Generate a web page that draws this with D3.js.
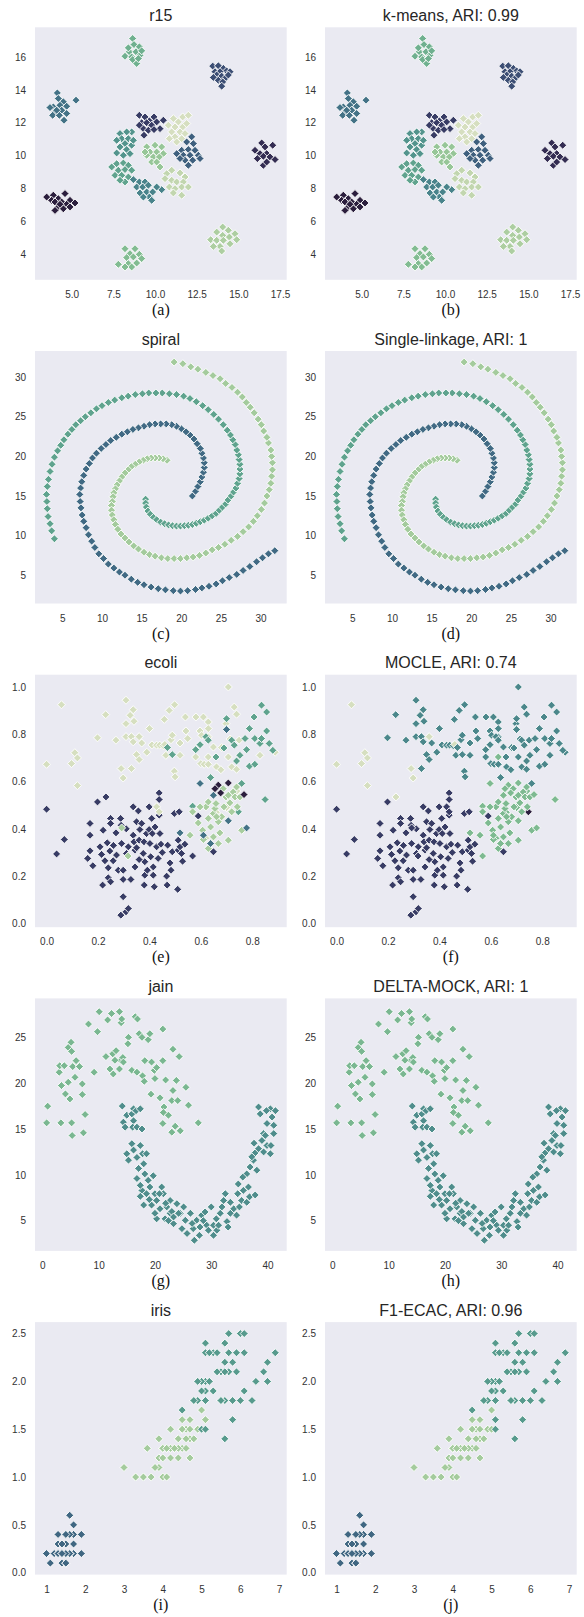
<!DOCTYPE html>
<html>
<head>
<meta charset="utf-8">
<script src="https://cdn.jsdelivr.net/npm/d3@7/dist/d3.min.js"></script>
<style>
body { margin: 0; background: #fff; }
text { font-family: "Liberation Sans", Arial, sans-serif; }
</style>
</head>
<body>
<svg id="fig" width="584" height="1617"></svg>
<script>
// ---- data ----
// r15: [x, y, cluster]
var r15Points = [
  [8.66,17.12,0],[8.74,16.75,0],[9.06,16.61,0],[8.46,16.31,0],[8.86,16.31,0],[8.2,16.04,0],[8.6,16.0,0],[9.1,16.1,0],[8.8,15.7,0],[8.9,15.6,0],[8.4,16.55,0],[9.2,16.37,0],[8.66,15.84,0],[9.0,15.9,0],
  [13.46,15.44,1],[13.8,15.46,1],[14.1,15.3,1],[14.3,15.15,1],[14.5,15.1,1],[13.6,15.1,1],[13.9,15.1,1],[13.7,14.9,1],[14.0,14.83,1],[14.26,14.75,1],[13.5,14.75,1],[13.8,14.58,1],[14.06,14.48,1],[14.0,14.22,1],[14.4,14.9,1],
  [4.14,13.81,2],[4.2,13.47,2],[4.5,13.27,2],[3.9,12.96,2],[4.3,13.06,2],[4.7,13.0,2],[3.7,12.92,2],[4.0,12.66,2],[4.4,12.76,2],[4.7,12.56,2],[3.86,12.45,2],[4.26,12.45,2],[4.54,12.15,2],[5.26,13.37,2],[4.1,12.76,2],
  [9.06,12.45,3],[9.4,12.35,3],[9.94,12.35,3],[9.66,12.11,3],[10.1,12.05,3],[9.2,12.0,3],[9.5,12.0,3],[9.8,11.85,3],[10.3,11.64,3],[9.3,11.64,3],[9.6,11.54,3],[9.94,11.58,3],[9.34,11.24,3],[10.5,12.15,3],[9.06,11.85,3],
  [11.66,12.35,4],[12.0,12.45,4],[11.1,12.25,4],[11.4,12.05,4],[10.8,11.85,4],[11.2,11.74,4],[11.66,11.74,4],[11.0,11.44,4],[11.5,11.44,4],[11.8,11.34,4],[11.2,11.14,4],[11.6,11.03,4],[11.3,10.83,4],[10.86,11.03,4],[11.9,11.95,4],
  [8.6,11.44,5],[8.3,11.44,5],[7.9,11.34,5],[8.0,11.03,5],[8.4,11.03,5],[7.7,10.93,5],[8.2,10.73,5],[8.6,10.63,5],[7.9,10.53,5],[8.3,10.37,5],[7.7,10.16,5],[8.1,10.02,5],[8.5,10.12,5],[8.7,10.93,5],
  [9.5,10.53,6],[10.0,10.63,6],[10.4,10.53,6],[9.7,10.22,6],[10.1,10.22,6],[10.5,10.12,6],[9.5,10.02,6],[9.9,9.92,6],[10.26,9.92,6],[9.8,9.61,6],[10.1,9.61,6],[9.4,10.22,6],[10.3,9.31,6],
  [12.2,11.14,7],[11.9,10.83,7],[12.3,10.73,7],[11.6,10.32,7],[12.0,10.37,7],[12.4,10.32,7],[11.3,10.12,7],[11.7,10.02,7],[12.1,10.02,7],[12.6,10.02,7],[11.8,9.72,7],[12.26,9.72,7],[12.7,9.82,7],[12.0,9.41,7],[11.5,9.82,7],
  [16.4,10.77,8],[16.0,10.32,8],[16.6,10.53,8],[17.06,10.63,8],[16.3,10.12,8],[16.7,10.12,8],[16.14,9.82,8],[16.5,9.96,8],[16.9,9.92,8],[16.5,9.41,8],[17.2,9.76,8],[16.7,9.61,8],
  [7.4,9.31,9],[7.7,9.51,9],[8.1,9.55,9],[8.4,9.41,9],[7.8,9.11,9],[8.2,9.15,9],[8.6,9.11,9],[7.6,8.8,9],[8.0,8.8,9],[8.4,8.7,9],[8.2,8.4,9],[7.9,8.5,9],
  [10.7,8.9,10],[11.0,9.11,10],[11.5,8.95,10],[11.8,8.7,10],[10.6,8.6,10],[11.0,8.5,10],[11.3,8.4,10],[11.7,8.4,10],[10.86,8.09,10],[11.2,7.99,10],[11.6,8.09,10],[12.0,8.09,10],[11.1,7.73,10],[11.6,7.59,10],
  [8.7,8.54,11],[9.06,8.4,11],[9.4,8.4,11],[8.9,8.09,11],[9.26,8.09,11],[9.6,8.2,11],[9.1,7.73,11],[9.5,7.79,11],[9.86,7.79,11],[9.66,7.48,11],[9.8,7.28,11],[10.4,7.93,11],[10.1,8.09,11],[9.3,7.48,11],
  [3.5,7.48,12],[3.9,7.59,12],[4.2,7.38,12],[4.6,7.69,12],[4.9,7.28,12],[5.2,7.12,12],[3.8,7.28,12],[4.0,7.18,12],[4.4,7.18,12],[4.7,7.04,12],[4.2,6.88,12],[4.5,6.77,12],[4.9,6.88,12],[4.0,6.67,12],[4.3,7.04,12],
  [8.2,4.34,13],[8.8,4.34,13],[8.5,4.04,13],[9.06,4.0,13],[8.3,3.8,13],[8.7,3.84,13],[9.2,3.74,13],[7.8,3.39,13],[8.4,3.43,13],[8.9,3.47,13],[8.6,3.23,13],[8.2,3.23,13],
  [14.06,5.66,14],[14.4,5.46,14],[14.8,5.25,14],[13.7,5.35,14],[14.06,5.15,14],[14.46,5.05,14],[13.34,4.89,14],[13.7,4.85,14],[14.1,4.85,14],[14.5,4.64,14],[13.9,4.48,14],[13.5,4.48,14],[14.0,4.2,14],[14.9,4.89,14]
];

// spiral: one list per arm, [x, y]
var spiralArmA = [
  [18.2,19.5],[17.7,19.7],[17.2,19.8],[16.7,19.8],[16.2,19.8],[15.7,19.7],[15.2,19.5],[14.7,19.3],[14.2,19.0],[13.7,18.7],[13.3,18.3],[12.9,17.9],[12.5,17.4],[12.2,16.9],[11.9,16.4],[11.7,15.9],[11.5,15.4],[11.4,14.9],[11.3,14.3],[11.2,13.8],[11.2,13.2],[11.3,12.6],[11.5,12.0],[11.7,11.4],[12.0,10.8],[12.4,10.2],[12.9,9.7],[13.4,9.2],[14.0,8.7],[14.6,8.3],[15.3,7.9],[16.0,7.6],[16.7,7.4],[17.5,7.2],[18.3,7.1],[19.1,7.1],[19.9,7.1],[20.7,7.2],[21.5,7.3],[22.3,7.5],[23.1,7.8],[23.9,8.2],[24.7,8.5],[25.5,8.9],[26.3,9.4],[27.1,9.9],[27.8,10.5],[28.5,11.1],[29.1,11.8],[29.6,12.5],[30.1,13.3],[30.5,14.1],[30.8,15.0],[31.1,15.8],[31.3,16.6],[31.4,17.5],[31.5,18.3],[31.5,19.2],[31.4,20.0],[31.3,20.8],[31.0,21.7],[30.8,22.4],[30.4,23.2],[30.1,24.0],[29.7,24.7],[29.2,25.5],[28.7,26.2],[28.2,26.8],[27.7,27.5],[27.1,28.1],[26.4,28.7],[25.6,29.2],[24.9,29.8],[24.0,30.2],[23.1,30.6],[22.1,31.0],[21.2,31.3],[20.2,31.7],[19.1,31.9]
];
var spiralArmB = [
  [15.5,14.6],[15.5,14.1],[15.6,13.6],[15.8,13.1],[16.1,12.7],[16.5,12.3],[16.9,12.0],[17.4,11.7],[17.9,11.5],[18.4,11.35],[18.9,11.25],[19.4,11.2],[19.9,11.2],[20.4,11.25],[20.9,11.3],[21.4,11.4],[21.9,11.55],[22.4,11.75],[22.9,11.95],[23.4,12.2],[23.9,12.5],[24.4,12.8],[24.8,13.2],[25.2,13.6],[25.6,14.0],[25.9,14.5],[26.3,15.0],[26.6,15.5],[26.9,16.0],[27.1,16.6],[27.3,17.2],[27.4,17.8],[27.4,18.4],[27.4,19.0],[27.3,19.6],[27.2,20.2],[27.0,20.8],[26.8,21.5],[26.5,22.1],[26.2,22.7],[25.8,23.3],[25.3,24.0],[24.7,24.7],[24.1,25.3],[23.4,25.9],[22.7,26.4],[21.9,26.9],[21.1,27.3],[20.3,27.6],[19.4,27.8],[18.5,27.9],[17.6,28.0],[16.8,28.0],[15.9,28.0],[15.1,27.9],[14.2,27.8],[13.3,27.6],[12.5,27.4],[11.6,27.1],[10.8,26.8],[10.0,26.4],[9.3,26.0],[8.6,25.5],[7.9,25.0],[7.3,24.5],[6.7,24.0],[6.2,23.4],[5.7,22.8],[5.2,22.1],[4.8,21.4],[4.4,20.7],[4.0,19.9],[3.7,19.0],[3.45,18.1],[3.25,17.1],[3.1,16.2],[3.0,15.2],[3.05,14.3],[3.1,13.4],[3.2,12.4],[3.45,11.5],[3.65,10.6],[4.0,9.6]
];
var spiralArmC = [
  [21.4,15.0],[21.8,15.6],[22.1,16.2],[22.4,16.8],[22.6,17.4],[22.8,18.0],[22.9,18.6],[22.9,19.2],[22.8,19.8],[22.6,20.4],[22.4,21.0],[22.0,21.6],[21.6,22.2],[21.1,22.7],[20.6,23.1],[20.0,23.5],[19.4,23.8],[18.8,24.0],[18.1,24.1],[17.4,24.1],[16.7,24.1],[16.0,24.0],[15.3,23.8],[14.6,23.6],[13.9,23.4],[13.2,23.1],[12.5,22.8],[11.8,22.4],[11.1,22.0],[10.5,21.5],[9.9,21.0],[9.3,20.4],[8.8,19.8],[8.4,19.1],[8.0,18.4],[7.7,17.6],[7.45,16.8],[7.3,16.0],[7.2,15.2],[7.25,14.3],[7.35,13.5],[7.5,12.6],[7.7,11.8],[8.0,11.0],[8.3,10.1],[8.7,9.3],[9.1,8.5],[9.6,7.7],[10.2,7.1],[10.8,6.4],[11.5,5.9],[12.2,5.4],[12.9,5.0],[13.7,4.5],[14.5,4.1],[15.3,3.8],[16.2,3.5],[17.1,3.3],[18.0,3.15],[19.0,3.05],[19.9,3.0],[20.8,3.05],[21.8,3.2],[22.6,3.4],[23.5,3.6],[24.4,3.9],[25.2,4.3],[26.05,4.7],[27.0,5.1],[27.8,5.6],[28.65,6.1],[29.5,6.7],[30.25,7.2],[31.0,7.7],[31.8,8.1]
];

// ecoli: [x, y, true class, MOCLE class]
var ecoliPoints = [
  [0.0,0.483,'N','N'],[0.039,0.294,'N','N'],[0.069,0.355,'N','N'],[0.16,0.275,'N','N'],[0.169,0.307,'N','N'],[0.169,0.423,'N','N'],[0.169,0.373,'N','N'],[0.18,0.244,'N','N'],[0.198,0.514,'N','N'],[0.208,0.324,'N','N'],
  [0.214,0.292,'N','N'],[0.218,0.162,'N','N'],[0.22,0.394,'N','N'],[0.227,0.265,'N','N'],[0.231,0.535,'N','P'],[0.236,0.341,'N','N'],[0.24,0.235,'N','N'],[0.24,0.193,'N','N'],[0.246,0.306,'N','N'],[0.249,0.444,'N','N'],
  [0.249,0.176,'N','N'],[0.249,0.423,'N','N'],[0.259,0.265,'N','N'],[0.27,0.383,'N','N'],[0.272,0.289,'N','N'],[0.279,0.225,'N','N'],[0.288,0.444,'N','N'],[0.29,0.415,'N','N'],[0.292,0.338,'N','N'],[0.298,0.225,'N','N'],
  [0.298,0.186,'N','N'],[0.298,0.113,'N','N'],[0.289,0.035,'N','N'],[0.309,0.049,'N','N'],[0.318,0.063,'N','N'],[0.311,0.296,'N','N'],[0.318,0.324,'N','N'],[0.328,0.186,'N','N'],[0.337,0.493,'N','N'],[0.337,0.373,'N','N'],
  [0.34,0.345,'N','N'],[0.344,0.31,'N','N'],[0.344,0.239,'N','N'],[0.35,0.43,'N','N'],[0.35,0.32,'N','N'],[0.357,0.476,'N','N'],[0.36,0.352,'N','N'],[0.363,0.397,'N','N'],[0.37,0.423,'N','N'],[0.376,0.296,'N','N'],
  [0.379,0.345,'N','N'],[0.38,0.162,'N','N'],[0.382,0.204,'N','N'],[0.382,0.261,'N','N'],[0.389,0.38,'N','N'],[0.392,0.225,'N','N'],[0.399,0.493,'N','N'],[0.399,0.397,'N','N'],[0.402,0.338,'N','N'],[0.405,0.282,'N','N'],
  [0.409,0.444,'N','N'],[0.411,0.38,'N','N'],[0.415,0.239,'N','N'],[0.415,0.204,'N','N'],[0.419,0.155,'N','N'],[0.422,0.408,'N','N'],[0.428,0.324,'N','N'],[0.434,0.275,'N','N'],[0.438,0.552,'N','N'],[0.438,0.524,'N','N'],
  [0.441,0.38,'N','N'],[0.445,0.335,'N','N'],[0.438,0.458,'N','N'],[0.467,0.2,'N','N'],[0.469,0.162,'N','N'],[0.471,0.331,'N','N'],[0.48,0.256,'N','N'],[0.484,0.225,'N','N'],[0.489,0.303,'N','N'],[0.497,0.465,'N','N'],
  [0.51,0.144,'N','N'],[0.512,0.31,'N','N'],[0.516,0.472,'N','N'],[0.519,0.324,'N','N'],[0.525,0.296,'N','N'],[0.529,0.263,'N','N'],[0.538,0.335,'N','N'],[0.568,0.285,'N','M'],[0.59,0.454,'N','N'],[0.649,0.303,'N','N'],
  [0.512,0.352,'N','N'],[0.31,0.4,'N','N'],[0.26,0.33,'N','N'],[0.45,0.3,'N','N'],[0.36,0.27,'N','N'],
  [0.058,0.925,'P','P'],[0.0,0.673,'P','P'],[0.097,0.676,'P','P'],[0.11,0.722,'P','P'],[0.12,0.70,'P','P'],[0.12,0.583,'P','P'],[0.23,0.883,'P','T'],[0.198,0.785,'P','T'],[0.27,0.775,'P','T'],[0.309,0.944,'P','T'],
  [0.309,0.845,'P','T'],[0.309,0.79,'P','T'],[0.325,0.88,'P','T'],[0.337,0.904,'P','T'],[0.34,0.855,'P','T'],[0.33,0.79,'P','T'],[0.337,0.768,'P','T'],[0.36,0.79,'P','P'],[0.29,0.655,'P','P'],[0.298,0.615,'P','P'],
  [0.33,0.655,'P','T'],[0.35,0.714,'P','T'],[0.36,0.693,'P','T'],[0.37,0.763,'P','T'],[0.39,0.724,'P','T'],[0.40,0.824,'P','T'],[0.41,0.755,'P','T'],[0.428,0.754,'P','T'],[0.44,0.754,'P','T'],[0.454,0.752,'P','T'],
  [0.458,0.863,'P','T'],[0.464,0.711,'P','T'],[0.477,0.901,'P','T'],[0.484,0.777,'P','T'],[0.489,0.796,'P','T'],[0.498,0.925,'P','T'],[0.497,0.644,'P','T'],[0.50,0.62,'P','T'],[0.519,0.711,'P','T'],[0.519,0.763,'P','T'],
  [0.54,0.873,'P','T'],[0.542,0.814,'P','T'],[0.549,0.782,'P','T'],[0.581,0.873,'P','T'],[0.58,0.704,'P','T'],[0.597,0.814,'P','T'],[0.603,0.796,'P','T'],[0.61,0.873,'P','T'],[0.60,0.676,'P','T'],[0.613,0.673,'P','T'],
  [0.629,0.852,'P','T'],[0.629,0.824,'P','T'],[0.629,0.789,'P','T'],[0.629,0.704,'P','M'],[0.629,0.673,'P','T'],[0.649,0.746,'P','T'],[0.661,0.662,'P','T'],[0.678,0.65,'P','T'],[0.681,0.744,'P','T'],[0.698,0.845,'P','T'],
  [0.707,1.0,'P','T'],[0.707,0.704,'P','T'],[0.714,0.78,'P','T'],[0.72,0.662,'P','T'],[0.73,0.915,'P','T'],[0.739,0.885,'P','T'],[0.739,0.652,'P','T'],[0.749,0.775,'P','T'],[0.83,0.711,'P','T'],[0.889,0.724,'P','T'],
  [0.46,0.757,'P','P'],[0.428,0.493,'P','N'],[0.438,0.472,'P','N'],[0.62,0.36,'P','M'],[0.74,0.56,'P','M'],[0.66,0.47,'P','M'],[0.70,0.49,'P','M'],
  [0.47,0.744,'G','T'],[0.489,0.714,'G','T'],[0.58,0.735,'G','T'],[0.597,0.756,'G','T'],[0.62,0.79,'G','T'],[0.629,0.775,'G','T'],[0.638,0.617,'G','T'],[0.659,0.704,'G','T'],[0.70,0.866,'G','T'],[0.69,0.742,'G','T'],
  [0.72,0.775,'G','T'],[0.73,0.754,'G','T'],[0.752,0.711,'G','T'],[0.739,0.687,'G','T'],[0.759,0.592,'G','T'],[0.772,0.782,'G','T'],[0.778,0.735,'G','T'],[0.789,0.824,'G','T'],[0.789,0.665,'G','T'],[0.807,0.873,'G','T'],
  [0.81,0.782,'G','T'],[0.83,0.761,'G','T'],[0.836,0.923,'G','T'],[0.836,0.782,'G','T'],[0.856,0.894,'G','T'],[0.856,0.814,'G','T'],[0.866,0.761,'G','T'],[0.88,0.732,'G','T'],[0.85,0.524,'G','M'],[0.81,0.673,'G','T'],
  [0.746,0.472,'G','D'],[0.568,0.496,'G','M'],[0.70,0.824,'G','T'],
  [0.568,0.472,'L','M'],[0.59,0.425,'L','M'],[0.607,0.394,'L','M'],[0.61,0.355,'L','M'],[0.62,0.493,'L','M'],[0.629,0.514,'L','M'],[0.629,0.444,'L','M'],[0.629,0.317,'L','M'],[0.638,0.408,'L','M'],[0.649,0.465,'L','M'],
  [0.655,0.486,'L','M'],[0.659,0.507,'L','M'],[0.668,0.43,'L','M'],[0.674,0.383,'L','M'],[0.681,0.451,'L','M'],[0.687,0.57,'L','M'],[0.69,0.493,'L','M'],[0.698,0.535,'L','M'],[0.707,0.542,'L','M'],[0.707,0.352,'L','M'],
  [0.713,0.51,'L','M'],[0.72,0.472,'L','M'],[0.726,0.556,'L','M'],[0.733,0.535,'L','M'],[0.739,0.577,'L','M'],[0.742,0.493,'L','M'],[0.752,0.535,'L','M'],[0.759,0.394,'L','M'],[0.661,0.451,'L','M'],[0.649,0.366,'L','M'],
  [0.668,0.338,'L','M'],[0.597,0.493,'L','M'],[0.558,0.373,'L','M'],[0.292,0.404,'L','N'],[0.317,0.285,'L','N'],
  [0.597,0.592,'B','M'],[0.61,0.373,'B','M'],[0.649,0.542,'B','M'],[0.519,0.383,'B','M'],[0.707,0.434,'B','M'],[0.778,0.404,'B','M'],[0.70,0.82,'B','T'],[0.638,0.338,'B','M'],
  [0.668,0.585,'D','M'],[0.707,0.594,'D','M'],[0.677,0.552,'D','M'],[0.768,0.545,'D','M'],[0.655,0.57,'D','M']
];

// jain: [x, y]
var jainUpper = [
  [0.95,17.49],[0.77,15.67],[3.3,15.67],[5.2,15.67],[5.3,14.29],[7.3,14.58],[7.6,16.58],[7.1,18.76],[7.1,19.92],[4.9,18.28],[4.1,18.83],[4.6,20.1],[3.4,19.74],[3.0,21.19],[3.1,21.91],[3.9,21.91],[5.4,21.81],[6.0,22.46],[5.8,20.64],[6.6,21.81],
  [4.6,23.9],[5.1,24.46],[5.2,23.47],[9.2,21.19],[8.2,26.45],[9.8,25.62],[10.1,27.8],[11.3,22.9],[11.6,26.9],[12.3,27.6],[12.0,21.55],[12.5,23.2],[13.1,23.55],[13.7,27.8],[14.0,26.6],[13.9,22.5],[13.7,21.55],[14.3,22.8],[14.4,22.3],[12.6,21.0],
  [15.3,25.0],[15.2,24.3],[15.9,21.4],[16.5,27.25],[16.8,21.2],[17.2,25.4],[17.7,25.0],[17.8,20.8],[18.1,20.2],[18.2,22.46],[18.8,24.75],[19.1,25.4],[19.3,18.8],[19.4,22.3],[19.9,21.4],[20.0,20.5],[20.3,21.7],[20.9,18.4],[21.4,25.9],[21.4,22.46],
  [21.6,17.4],[21.9,20.35],[21.5,16.8],[21.4,15.6],[22.4,16.5],[23.0,18.1],[23.2,19.2],[23.2,23.7],[23.0,14.65],[23.6,15.3],[23.8,20.3],[24.05,18.1],[24.5,14.8],[24.3,22.9],[25.5,19.55],[25.96,17.6],[27.7,15.67],[12.9,22.5],[14.1,27.0],[16.9,27.0]
];
var jainLower = [
  [14.2,17.5],[14.4,15.75],[15.0,16.5],[15.9,16.65],[16.2,17.2],[16.65,17.0],[17.4,17.2],[16.2,15.9],[16.05,15.2],[16.8,15.2],[17.7,15.0],[14.7,15.2],[15.9,13.4],[15.0,12.3],[15.3,11.6],[16.2,12.7],[16.8,11.9],[17.4,13.2],[17.8,12.3],[18.5,12.3],
  [18.0,11.2],[16.8,9.6],[17.1,10.7],[18.2,10.1],[19.7,9.9],[17.7,8.3],[18.5,7.94],[19.1,8.67],[17.4,7.65],[18.0,6.7],[19.4,6.7],[20.0,7.94],[21.2,8.67],[21.5,7.94],[20.3,7.2],[20.9,6.3],[22.1,6.5],[22.7,7.2],[20.3,5.2],[21.8,5.2],
  [22.7,5.8],[23.3,4.67],[23.9,6.85],[24.5,5.8],[25.1,6.5],[25.4,5.04],[24.8,4.13],[25.7,3.6],[26.3,5.8],[26.8,4.13],[27.0,2.86],[27.4,5.04],[27.9,3.4],[28.3,5.6],[28.9,5.95],[29.2,4.5],[29.5,3.95],[30.0,6.5],[30.4,3.4],[30.9,5.2],
  [31.0,3.95],[31.6,5.8],[31.9,6.5],[32.5,7.94],[32.8,4.9],[33.0,4.3],[33.4,5.8],[33.4,7.0],[34.0,6.3],[34.5,5.6],[34.7,7.94],[35.0,6.5],[35.4,7.2],[35.7,8.3],[34.8,9.0],[36.3,7.0],[36.6,8.67],[36.8,7.6],[37.8,7.8],[36.3,10.1],
  [35.6,9.75],[36.9,10.85],[37.5,11.6],[38.1,10.5],[37.8,12.4],[37.2,11.96],[38.4,12.85],[37.6,13.45],[39.3,12.5],[39.9,13.2],[40.5,12.3],[39.0,13.75],[39.3,14.5],[40.6,13.2],[39.9,15.6],[41.1,15.4],[40.8,16.3],[40.5,17.2],[38.7,16.65],[38.4,17.4],
  [39.8,17.0],[41.4,17.0],[39.6,14.3],[41.1,14.5],[23.0,6.0],[24.2,5.8],[23.3,5.4],[26.6,4.7],[28.0,4.3],[28.6,5.0],[30.4,4.5],[31.3,4.5],[32.2,7.2],[17.4,8.85],[18.8,9.4],[20.8,7.94],[22.4,5.0],[20.0,5.8],[19.0,7.3],[21.9,6.9]
];

// iris petal length / width: [x, y, species, F1-ECAC cluster]
var irisPoints = [
  [1.4,0.2,0,0],[1.4,0.2,0,0],[1.3,0.2,0,0],[1.5,0.2,0,0],[1.4,0.2,0,0],[1.7,0.4,0,0],[1.4,0.3,0,0],[1.5,0.2,0,0],[1.4,0.2,0,0],[1.5,0.1,0,0],
  [1.5,0.2,0,0],[1.6,0.2,0,0],[1.4,0.1,0,0],[1.1,0.1,0,0],[1.2,0.2,0,0],[1.5,0.4,0,0],[1.3,0.4,0,0],[1.4,0.3,0,0],[1.7,0.3,0,0],[1.5,0.3,0,0],
  [1.7,0.2,0,0],[1.5,0.4,0,0],[1.0,0.2,0,0],[1.7,0.5,0,0],[1.9,0.2,0,0],[1.6,0.2,0,0],[1.6,0.4,0,0],[1.5,0.2,0,0],[1.4,0.2,0,0],[1.6,0.2,0,0],
  [1.6,0.2,0,0],[1.5,0.4,0,0],[1.5,0.1,0,0],[1.4,0.2,0,0],[1.5,0.1,0,0],[1.2,0.2,0,0],[1.3,0.2,0,0],[1.5,0.1,0,0],[1.3,0.2,0,0],[1.5,0.2,0,0],
  [1.3,0.3,0,0],[1.3,0.3,0,0],[1.3,0.2,0,0],[1.6,0.6,0,0],[1.9,0.4,0,0],[1.4,0.3,0,0],[1.6,0.2,0,0],[1.4,0.2,0,0],[1.5,0.2,0,0],[1.4,0.2,0,0],
  [4.7,1.4,1,1],[4.5,1.5,1,1],[4.9,1.5,1,1],[4.0,1.3,1,1],[4.6,1.5,1,1],[4.5,1.3,1,1],[4.7,1.6,1,1],[3.3,1.0,1,1],[4.6,1.3,1,1],[3.9,1.4,1,1],
  [3.5,1.0,1,1],[4.2,1.5,1,1],[4.0,1.0,1,1],[4.7,1.4,1,1],[3.6,1.3,1,1],[4.4,1.4,1,1],[4.5,1.5,1,1],[4.1,1.0,1,1],[4.5,1.5,1,1],[3.9,1.1,1,1],
  [4.8,1.8,1,2],[4.0,1.3,1,1],[4.9,1.5,1,1],[4.7,1.2,1,1],[4.3,1.3,1,1],[4.4,1.4,1,1],[4.8,1.4,1,1],[5.0,1.7,1,1],[4.5,1.5,1,1],[3.5,1.0,1,1],
  [3.8,1.1,1,1],[3.7,1.0,1,1],[3.9,1.2,1,1],[5.1,1.6,1,2],[4.5,1.5,1,1],[4.5,1.6,1,1],[4.7,1.5,1,1],[4.4,1.3,1,1],[4.1,1.3,1,1],[4.0,1.3,1,1],
  [4.4,1.2,1,1],[4.6,1.4,1,1],[4.0,1.2,1,1],[3.3,1.0,1,1],[4.2,1.3,1,1],[4.2,1.2,1,1],[4.2,1.3,1,1],[4.3,1.3,1,1],[3.0,1.1,1,1],[4.1,1.3,1,1],
  [6.0,2.5,2,2],[5.1,1.9,2,2],[5.9,2.1,2,2],[5.6,1.8,2,2],[5.8,2.2,2,2],[6.6,2.1,2,2],[4.5,1.7,2,2],[6.3,1.8,2,2],[5.8,1.8,2,2],[6.1,2.5,2,2],
  [5.1,2.0,2,2],[5.3,1.9,2,2],[5.5,2.1,2,2],[5.0,2.0,2,2],[5.1,2.4,2,2],[5.3,2.3,2,2],[5.5,1.8,2,2],[6.7,2.2,2,2],[6.9,2.3,2,2],[5.0,1.5,2,1],
  [5.7,2.3,2,2],[4.9,2.0,2,2],[6.7,2.0,2,2],[4.9,1.8,2,2],[5.7,2.1,2,2],[6.0,1.8,2,2],[4.8,1.8,2,2],[4.9,1.8,2,2],[5.6,2.1,2,2],[5.8,1.6,2,2],
  [6.1,1.9,2,2],[6.4,2.0,2,2],[5.6,2.2,2,2],[5.1,1.5,2,2],[5.6,1.4,2,2],[6.1,2.3,2,2],[5.6,2.4,2,2],[5.5,1.8,2,2],[4.8,1.8,2,2],[5.4,2.1,2,2],
  [5.6,2.4,2,2],[5.1,2.3,2,2],[5.1,1.9,2,2],[5.9,2.3,2,2],[5.7,2.5,2,2],[5.2,2.3,2,2],[5.0,1.9,2,2],[5.2,2.0,2,2],[5.4,2.3,2,2],[5.1,1.8,2,2]
];

// tick values per dataset
var r15XTicks = [5, 7.5, 10, 12.5, 15, 17.5], r15YTicks = [4, 6, 8, 10, 12, 14, 16];
var spiralXTicks = [5, 10, 15, 20, 25, 30], spiralYTicks = [5, 10, 15, 20, 25, 30];
var ecoliXTicks = [0, 0.2, 0.4, 0.6, 0.8], ecoliYTicks = [0, 0.2, 0.4, 0.6, 0.8, 1.0];
var jainXTicks = [0, 10, 20, 30, 40], jainYTicks = [5, 10, 15, 20, 25];
var irisXTicks = [1, 2, 3, 4, 5, 6, 7], irisYTicks = [0, 0.5, 1.0, 1.5, 2.0, 2.5];

// ---- styling ----
// position of each class on the cubehelix(start=.5, rot=-.75) ramp
var r15Shades = [0.60, 0.30, 0.40, 0.25, 0.85, 0.50, 0.70, 0.35, 0.20, 0.55, 0.80, 0.45, 0.15, 0.65, 0.75];
var spiralShades = [0.73, 0.55, 0.38];
var ecoliShades = {N: 0.25, P: 0.85, G: 0.55, L: 0.74, B: 0.40, D: 0.15, T: 0.46, M: 0.64};
var jainShades = [0.63, 0.48];
var irisShades = [0.37, 0.73, 0.52];

function cubehelix(t) {
    var amp = 0.8 * t * (1 - t) / 2;
    var phi = 2 * Math.PI * (0.5 / 3 - 0.75 * t);
    var c = Math.cos(phi), s = Math.sin(phi);
    var ch = function(v) { return Math.round(255 * Math.max(0, Math.min(1, v))); };
    return d3.rgb(ch(t + amp * (-0.14861 * c + 1.78277 * s)),
                  ch(t + amp * (-0.29227 * c - 0.90649 * s)),
                  ch(t + amp * (1.97294 * c))).formatHex();
}

var svg = d3.select('#fig');
var colX = [35, 325], plotW = 251.7, plotH = 252.5;
var rowTop = function(i) { return 27.3 + i * 323.7; };
var diamond = 'M0,-4L4,0L0,4L-4,0Z';

function spiralPts() {
    var out = [];
    [spiralArmA, spiralArmB, spiralArmC].forEach(function(arm, k) {
        arm.forEach(function(p) { out.push([p[0], p[1], k, k]); });
    });
    return out;
}
function jainPts() {
    var out = [];
    jainUpper.forEach(function(p) { out.push([p[0], p[1], 0, 0]); });
    jainLower.forEach(function(p) { out.push([p[0], p[1], 1, 1]); });
    return out;
}
var r15Pts = r15Points.map(function(p) { return [p[0], p[1], p[2], p[2]]; });

var rows = [
    {pts: r15Pts, shades: r15Shades, xd: [2.8, 17.9], yd: [2.45, 17.8], xt: r15XTicks, yt: r15YTicks, xf: '.1f', yf: 'd',
     titles: ['r15', 'k-means, ARI: 0.99'], caps: ['(a)', '(b)']},
    {pts: spiralPts(), shades: spiralShades, xd: [1.55, 33.3], yd: [1.43, 33.3], xt: spiralXTicks, yt: spiralYTicks, xf: 'd', yf: 'd',
     titles: ['spiral', 'Single-linkage, ARI: 1'], caps: ['(c)', '(d)']},
    {pts: ecoliPoints, shades: ecoliShades, xd: [-0.045, 0.934], yd: [-0.016, 1.052], xt: ecoliXTicks, yt: ecoliYTicks, xf: '.1f', yf: '.1f',
     titles: ['ecoli', 'MOCLE, ARI: 0.74'], caps: ['(e)', '(f)']},
    {pts: jainPts(), shades: jainShades, xd: [-1.3, 43.4], yd: [1.7, 29.25], xt: jainXTicks, yt: jainYTicks, xf: 'd', yf: 'd',
     titles: ['jain', 'DELTA-MOCK, ARI: 1'], caps: ['(g)', '(h)']},
    {pts: irisPoints, shades: irisShades, xd: [0.705, 7.195], yd: [-0.02, 2.62], xt: irisXTicks, yt: irisYTicks, xf: 'd', yf: '.1f',
     titles: ['iris', 'F1-ECAC, ARI: 0.96'], caps: ['(i)', '(j)']}
];

rows.forEach(function(row, ri) {
    [0, 1].forEach(function(ci) {
        var x0 = colX[ci], y0 = rowTop(ri);
        var g = svg.append('g').attr('transform', 'translate(' + x0 + ',' + y0 + ')');
        var x = d3.scaleLinear().domain(row.xd).range([0, plotW]);
        var y = d3.scaleLinear().domain(row.yd).range([plotH, 0]);

        g.append('rect').attr('width', plotW).attr('height', plotH).attr('fill', '#eaeaf2');

        var xAxis = g.append('g').attr('transform', 'translate(0,' + plotH + ')')
            .call(d3.axisBottom(x).tickValues(row.xt).tickFormat(d3.format(row.xf)).tickSize(0).tickPadding(11));
        var yAxis = g.append('g')
            .call(d3.axisLeft(y).tickValues(row.yt).tickFormat(d3.format(row.yf)).tickSize(0).tickPadding(9));
        [xAxis, yAxis].forEach(function(a) {
            a.select('.domain').remove();
            a.selectAll('text').attr('font-size', 10).attr('fill', '#333')
                .attr('font-family', '"Liberation Sans", Arial, sans-serif');
        });

        g.append('g').selectAll('path').data(row.pts).enter().append('path')
            .attr('d', diamond)
            .attr('transform', function(d) { return 'translate(' + x(d[0]) + ',' + y(d[1]) + ')'; })
            .attr('fill', function(d) { return cubehelix(row.shades[d[2 + ci]]); })
            .attr('stroke', '#fff').attr('stroke-width', 0.9);

        g.append('text').attr('x', plotW / 2).attr('y', -6.5).attr('text-anchor', 'middle')
            .attr('font-size', 16).attr('fill', '#262626').text(row.titles[ci]);
        g.append('text').attr('x', plotW / 2).attr('y', plotH + 35).attr('text-anchor', 'middle')
            .attr('font-size', 16).attr('fill', '#111')
            .style('font-family', '"Liberation Serif", "Times New Roman", serif').text(row.caps[ci]);
    });
});
</script>
</body>
</html>
